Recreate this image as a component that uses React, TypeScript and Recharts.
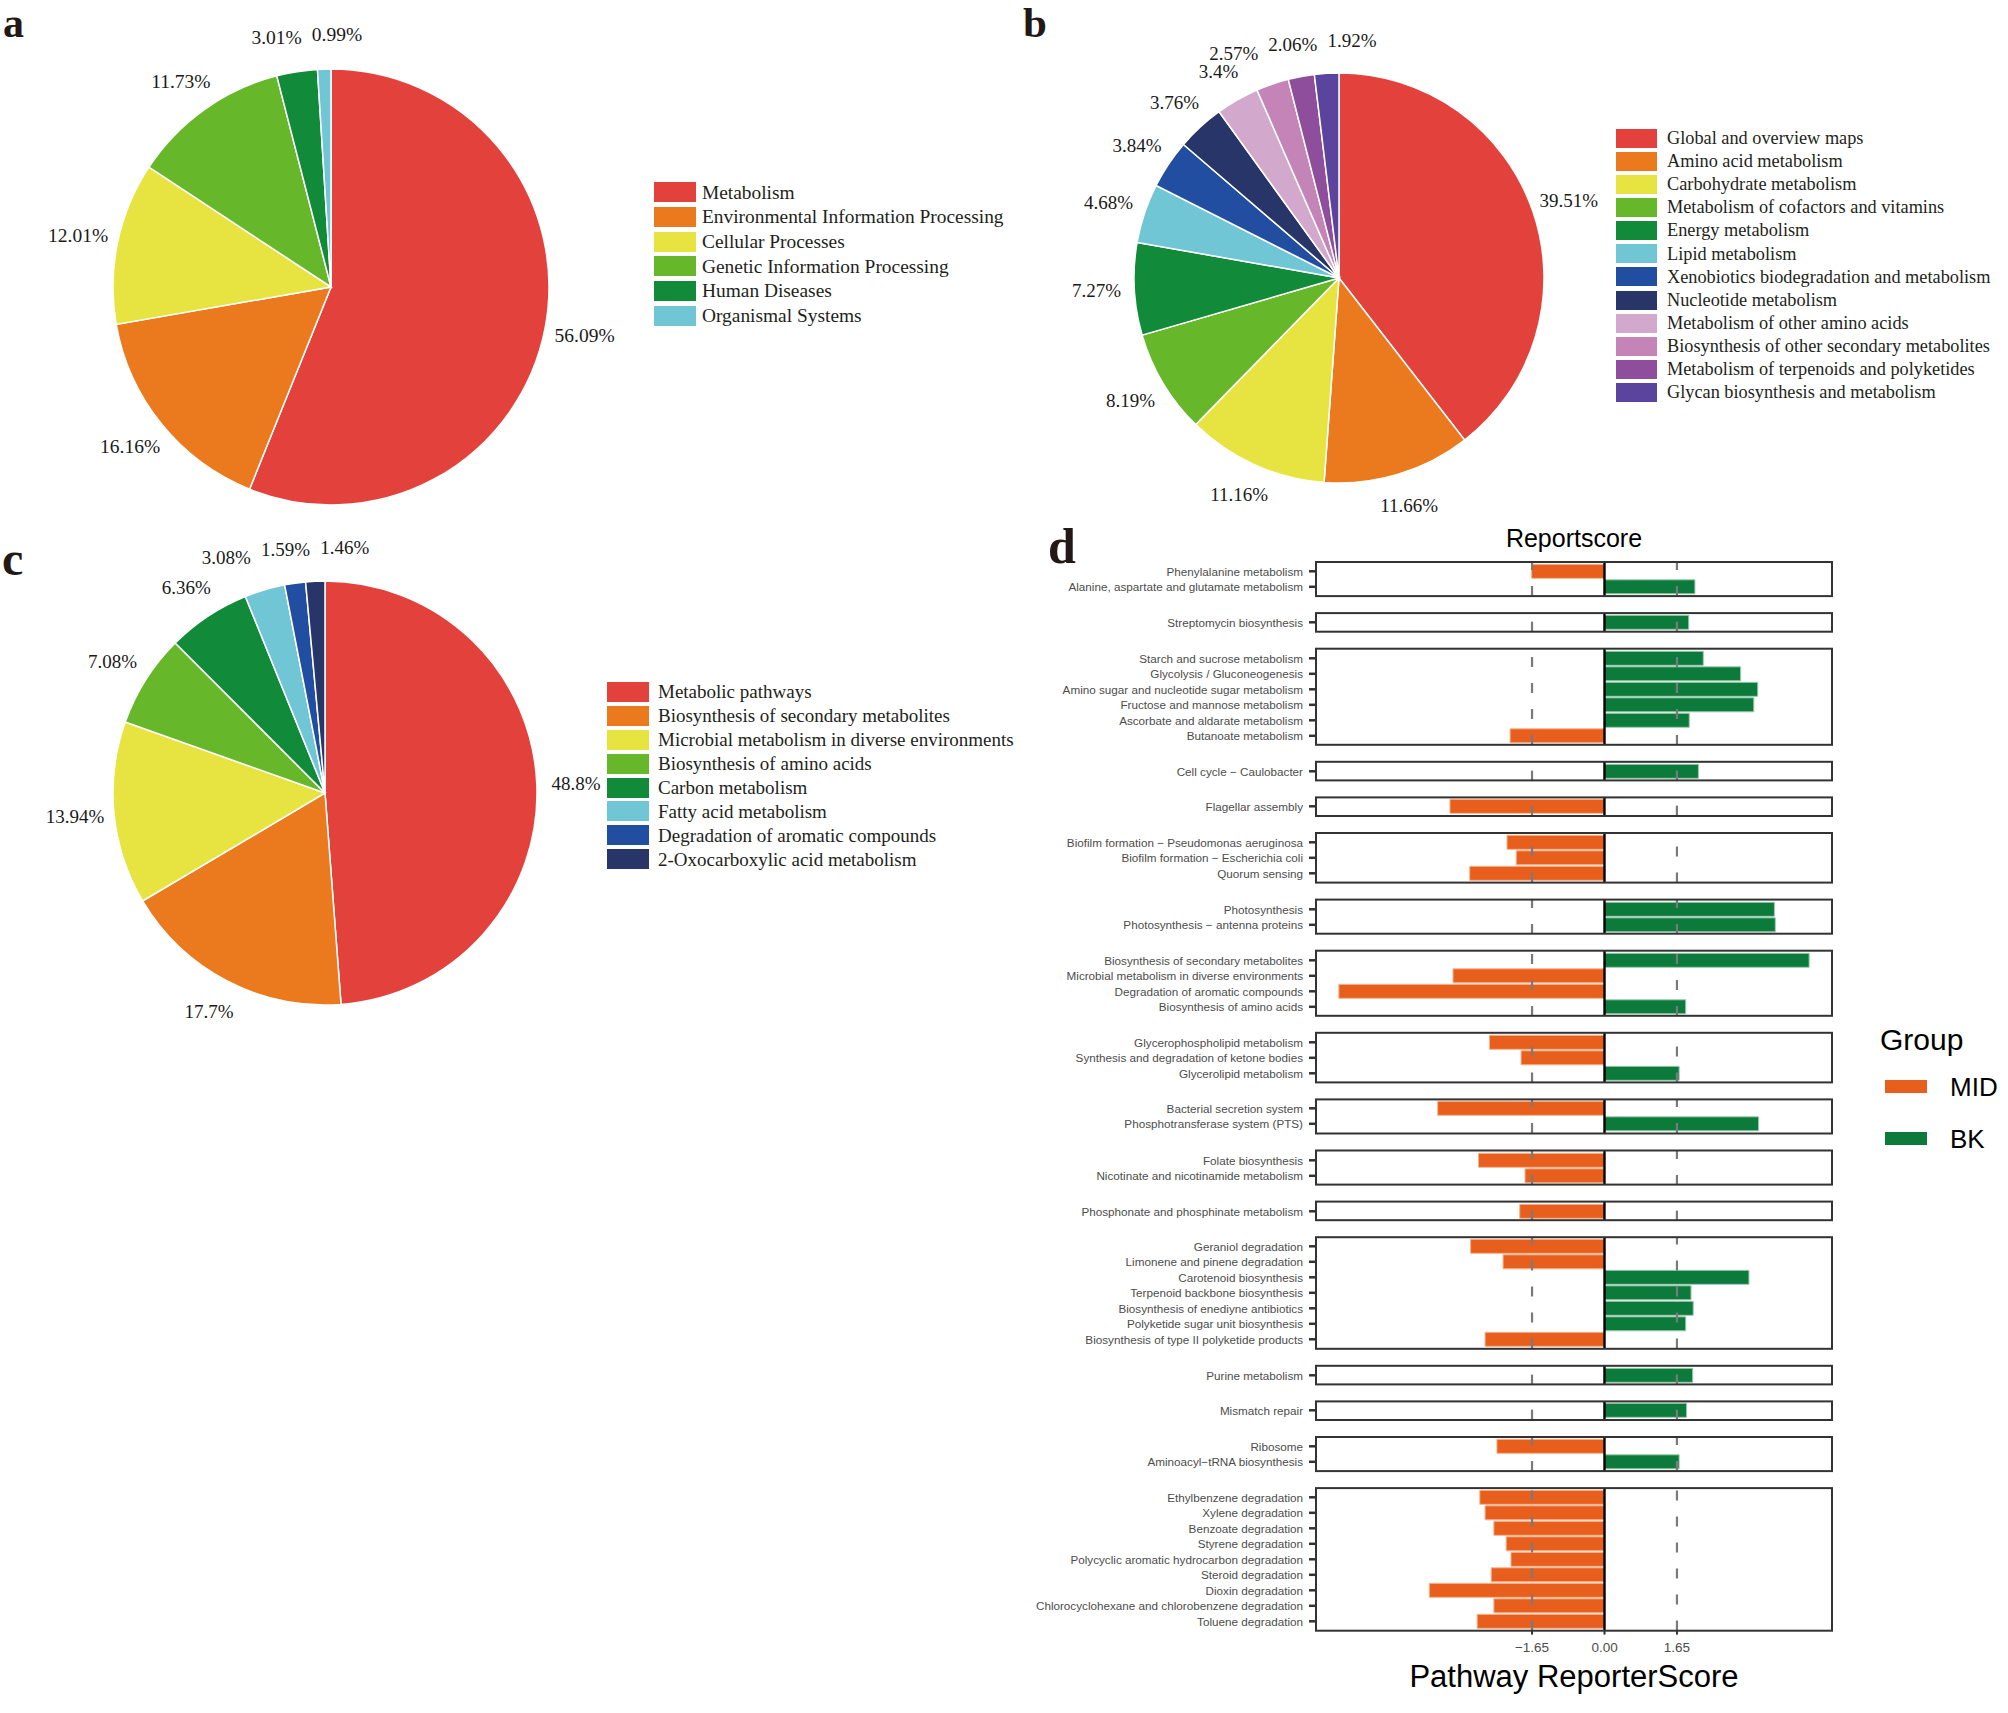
import React from "react";
import { PieChart, Pie, Cell, Legend, BarChart, Bar, XAxis, YAxis, ReferenceLine } from "recharts";

const SERIF = '"Liberation Serif", "Times New Roman", serif';
const SANS = '"Liberation Sans", Arial, sans-serif';

// ---------- Panel a (KEGG level 1) ----------
const level1Names = [
  "Metabolism",
  "Environmental Information Processing",
  "Cellular Processes",
  "Genetic Information Processing",
  "Human Diseases",
  "Organismal Systems",
];
const level1Pct = [56.09, 16.16, 12.01, 11.73, 3.01, 0.99];

// ---------- Panel b (KEGG level 2) ----------
const level2Names = [
  "Global and overview maps",
  "Amino acid metabolism",
  "Carbohydrate metabolism",
  "Metabolism of cofactors and vitamins",
  "Energy metabolism",
  "Lipid metabolism",
  "Xenobiotics biodegradation and metabolism",
  "Nucleotide metabolism",
  "Metabolism of other amino acids",
  "Biosynthesis of other secondary metabolites",
  "Metabolism of terpenoids and polyketides",
  "Glycan biosynthesis and metabolism",
];
const level2Pct = [39.51, 11.66, 11.16, 8.19, 7.27, 4.68, 3.84, 3.76, 3.4, 2.57, 2.06, 1.92];

// ---------- Panel c (KEGG level 3) ----------
const level3Names = [
  "Metabolic pathways",
  "Biosynthesis of secondary metabolites",
  "Microbial metabolism in diverse environments",
  "Biosynthesis of amino acids",
  "Carbon metabolism",
  "Fatty acid metabolism",
  "Degradation of aromatic compounds",
  "2-Oxocarboxylic acid metabolism",
];
const level3Pct = [48.8, 17.7, 13.94, 7.08, 6.36, 3.08, 1.59, 1.46];

// ---------- Panel d (ReporterScore facets) ----------
const pathwayGroups: string[][] = [
  ["Phenylalanine metabolism", "Alanine, aspartate and glutamate metabolism"],
  ["Streptomycin biosynthesis"],
  [
    "Starch and sucrose metabolism",
    "Glycolysis / Gluconeogenesis",
    "Amino sugar and nucleotide sugar metabolism",
    "Fructose and mannose metabolism",
    "Ascorbate and aldarate metabolism",
    "Butanoate metabolism",
  ],
  ["Cell cycle \u2212 Caulobacter"],
  ["Flagellar assembly"],
  [
    "Biofilm formation \u2212 Pseudomonas aeruginosa",
    "Biofilm formation \u2212 Escherichia coli",
    "Quorum sensing",
  ],
  ["Photosynthesis", "Photosynthesis \u2212 antenna proteins"],
  [
    "Biosynthesis of secondary metabolites",
    "Microbial metabolism in diverse environments",
    "Degradation of aromatic compounds",
    "Biosynthesis of amino acids",
  ],
  ["Glycerophospholipid metabolism", "Synthesis and degradation of ketone bodies", "Glycerolipid metabolism"],
  ["Bacterial secretion system", "Phosphotransferase system (PTS)"],
  ["Folate biosynthesis", "Nicotinate and nicotinamide metabolism"],
  ["Phosphonate and phosphinate metabolism"],
  [
    "Geraniol degradation",
    "Limonene and pinene degradation",
    "Carotenoid biosynthesis",
    "Terpenoid backbone biosynthesis",
    "Biosynthesis of enediyne antibiotics",
    "Polyketide sugar unit biosynthesis",
    "Biosynthesis of type II polyketide products",
  ],
  ["Purine metabolism"],
  ["Mismatch repair"],
  ["Ribosome", "Aminoacyl\u2212tRNA biosynthesis"],
  [
    "Ethylbenzene degradation",
    "Xylene degradation",
    "Benzoate degradation",
    "Styrene degradation",
    "Polycyclic aromatic hydrocarbon degradation",
    "Steroid degradation",
    "Dioxin degradation",
    "Chlorocyclohexane and chlorobenzene degradation",
    "Toluene degradation",
  ],
];
const scoreGroups: number[][] = [
  [-1.66, 2.06],
  [1.92],
  [2.25, 3.1, 3.49, 3.4, 1.93, -2.15],
  [2.14],
  [-3.52],
  [-2.22, -2.01, -3.07],
  [3.87, 3.89],
  [4.66, -3.45, -6.05, 1.85],
  [-2.62, -1.9, 1.7],
  [-3.8, 3.51],
  [-2.87, -1.81],
  [-1.93],
  [-3.05, -2.31, 3.29, 1.97, 2.02, 1.85, -2.72],
  [2.01],
  [1.87],
  [-2.45, 1.7],
  [-2.84, -2.72, -2.52, -2.24, -2.13, -2.58, -3.99, -2.52, -2.9],
];
const groupNames = ["MID", "BK"];
const xTicks = [-1.65, 0, 1.65];
const thresholds = [-1.65, 1.65];

// ---------- styles ----------
const PIE_COLORS = [
  "#E3423C", "#EB7A1E", "#E7E340", "#67B72B", "#118A39", "#70C6D4",
  "#224EA1", "#273568", "#D2A9CC", "#C484B8", "#8E4E9C", "#5B449E",
];
const GROUP_COLORS: Record<string, string> = { MID: "#E85E1C", BK: "#0B7A3B" };
const GROUP_EDGE: Record<string, string> = { MID: "#F6B58F", BK: "#9CCBAE" };

const LABEL_FX = 1.185;
const LABEL_FY = 1.16;

const pctText = (v: number) => `${v}%`;

function textWidth(s: string, fs: number) {
  let w = 0;
  for (const ch of s) w += ch === "%" ? 0.833 : ch === "." ? 0.25 : 0.5;
  return w * fs;
}

// simple horizontal de-overlap of pie percentage labels
function repelOffsets(values: number[], R: number, fs: number) {
  const total = values.reduce((a, b) => a + b, 0);
  let acc = 0;
  const pts = values.map((v) => {
    const mid = 90 - ((acc + v / 2) / total) * 360;
    acc += v;
    const rad = (-mid * Math.PI) / 180;
    return { x: R * LABEL_FX * Math.cos(rad), y: R * LABEL_FY * Math.sin(rad), w: textWidth(pctText(v), fs) };
  });
  const x0 = pts.map((p) => p.x);
  for (let it = 0; it < 400; it++) {
    let moved = false;
    for (let i = 0; i < pts.length; i++) {
      for (let j = i + 1; j < pts.length; j++) {
        const a = pts[i];
        const b = pts[j];
        if (Math.abs(a.y - b.y) >= fs * 0.95) continue;
        const need = (a.w + b.w) / 2 + 10;
        const dx = b.x - a.x;
        if (Math.abs(dx) >= need) continue;
        const push = (need - Math.abs(dx)) / 2 + 0.05;
        const dir = dx > 0 ? 1 : -1;
        a.x -= dir * push;
        b.x += dir * push;
        moved = true;
      }
    }
    if (!moved) break;
  }
  return pts.map((p, i) => p.x - x0[i]);
}

function makeLabel(values: number[], R: number, fs: number) {
  const offs = repelOffsets(values, R, fs);
  return (props: any) => {
    const { cx, cy, midAngle, outerRadius, index } = props;
    const rad = (-midAngle * Math.PI) / 180;
    const x = cx + outerRadius * LABEL_FX * Math.cos(rad) + (offs[index] || 0);
    const y = cy + outerRadius * LABEL_FY * Math.sin(rad);
    return (
      <text
        x={x}
        y={y}
        textAnchor="middle"
        dominantBaseline="central"
        fontFamily={SERIF}
        fontSize={fs}
        fill="#1a1a1a"
      >
        {pctText(values[index])}
      </text>
    );
  };
}

type LegendSpec = { keyW: number; keyH: number; rowH: number; fs: number; gap: number };

function PieLegendContent({ names, spec }: { names: string[]; spec: LegendSpec }) {
  return (
    <div style={{ fontFamily: SERIF, fontSize: spec.fs, color: "#231F20" }}>
      {names.map((n, i) => (
        <div key={n} style={{ display: "flex", alignItems: "center", height: spec.rowH }}>
          <div
            style={{
              width: spec.keyW,
              height: spec.keyH,
              background: PIE_COLORS[i],
              marginRight: spec.gap,
              flex: "none",
            }}
          />
          <span style={{ whiteSpace: "nowrap", lineHeight: 1 }}>{n}</span>
        </div>
      ))}
    </div>
  );
}

type PieSpec = {
  names: string[];
  values: number[];
  left: number;
  top: number;
  width: number;
  height: number;
  cx: number;
  cy: number;
  r: number;
  labelFs: number;
  legendLeft: number;
  legendTop: number;
  legend: LegendSpec;
};

function KeggPie({ s }: { s: PieSpec }) {
  const data = s.names.map((n, i) => ({ name: n, value: s.values[i] }));
  return (
    <div style={{ position: "absolute", left: s.left, top: s.top }}>
      <PieChart width={s.width} height={s.height} margin={{ top: 0, right: 0, bottom: 0, left: 0 }}>
        <Pie
          data={data}
          dataKey="value"
          nameKey="name"
          cx={s.cx}
          cy={s.cy}
          outerRadius={s.r}
          startAngle={90}
          endAngle={-270}
          stroke="#ffffff"
          strokeWidth={1.5}
          labelLine={false}
          label={makeLabel(s.values, s.r, s.labelFs)}
          isAnimationActive={false}
        >
          {data.map((d, i) => (
            <Cell key={d.name} fill={PIE_COLORS[i]} />
          ))}
        </Pie>
        <Legend
          layout="vertical"
          align="right"
          verticalAlign="top"
          wrapperStyle={{ left: s.legendLeft, top: s.legendTop, width: "auto", height: "auto", right: "auto" }}
          content={() => <PieLegendContent names={s.names} spec={s.legend} />}
        />
      </PieChart>
    </div>
  );
}

// ---------- panel d layout ----------
const D_PANEL_LEFT = 1316;
const D_PANEL_W = 516;
const Y_AXIS_W = 300;
const FACET_TOP0 = 562;
const ROW_U = 15.5;
const FACET_GAP = 17;
const X_DOMAIN: [number, number] = [-6.57, 5.18];
const X_AXIS_H = 36;
const AXIS_FS = 11.7;
const XTICK_FS = 13.5;

const fmtTick = (v: number) => v.toFixed(2).replace("-", "\u2212");

const YTick = (props: any) => {
  const { x, y, payload } = props;
  return (
    <text
      x={x}
      y={y}
      textAnchor="end"
      dominantBaseline="central"
      fontFamily={SANS}
      fontSize={AXIS_FS}
      fill="#4D4D4D"
    >
      {payload.value}
    </text>
  );
};

type FacetProps = { names: string[]; scores: number[]; top: number; isLast: boolean };

function facetRows(names: string[], scores: number[]) {
  return names.map((p, i) => ({
    pathway: p,
    score: scores[i],
    group: scores[i] < 0 ? groupNames[0] : groupNames[1],
  }));
}

function Facet({ names, scores, top, isLast }: FacetProps) {
  const n = names.length;
  const boxH = (n + 0.2) * ROW_U;
  const rows = facetRows(names, scores);
  return (
    <div style={{ position: "absolute", left: D_PANEL_LEFT - Y_AXIS_W, top, fontFamily: SANS }}>
      <BarChart
        layout="vertical"
        width={Y_AXIS_W + D_PANEL_W}
        height={boxH + (isLast ? X_AXIS_H : 0)}
        data={rows}
        margin={{ top: 0, right: 0, bottom: 0, left: 0 }}
        barCategoryGap="5%"
      >
        <XAxis
          type="number"
          domain={X_DOMAIN}
          ticks={xTicks}
          allowDataOverflow
          hide={!isLast}
          height={X_AXIS_H}
          axisLine={false}
          tickLine={{ stroke: "#333333", strokeWidth: 2 }}
          tickSize={4}
          tickMargin={8}
          tickFormatter={fmtTick}
          tick={{ fontSize: XTICK_FS, fill: "#4D4D4D", fontFamily: SANS }}
          interval={0}
        />
        <YAxis
          type="category"
          dataKey="pathway"
          width={Y_AXIS_W}
          interval={0}
          axisLine={false}
          tickSize={7}
          tickMargin={6}
          tickLine={{ stroke: "#333333", strokeWidth: 2.5 }}
          tick={YTick}
          padding={{ top: 0.1 * ROW_U, bottom: 0.1 * ROW_U }}
        />
        <Bar dataKey="score" isAnimationActive={false} strokeWidth={1}>
          {rows.map((r, i) => (
            <Cell key={i} fill={GROUP_COLORS[r.group]} stroke={GROUP_EDGE[r.group]} />
          ))}
        </Bar>
      </BarChart>
    </div>
  );
}

// Transparent twin chart so the reference lines sit above the bars
function FacetLines({ names, scores, top }: FacetProps) {
  const n = names.length;
  const boxH = (n + 0.2) * ROW_U;
  const rows = facetRows(names, scores);
  return (
    <div style={{ position: "absolute", left: D_PANEL_LEFT - Y_AXIS_W, top, pointerEvents: "none" }}>
      <BarChart
        layout="vertical"
        width={Y_AXIS_W + D_PANEL_W}
        height={boxH}
        data={rows}
        margin={{ top: 0, right: 0, bottom: 0, left: 0 }}
        barCategoryGap="5%"
      >
        <XAxis type="number" domain={X_DOMAIN} allowDataOverflow hide />
        <YAxis
          type="category"
          dataKey="pathway"
          width={Y_AXIS_W}
          tick={false}
          tickLine={false}
          axisLine={false}
          padding={{ top: 0.1 * ROW_U, bottom: 0.1 * ROW_U }}
        />
        <Bar dataKey="score" isAnimationActive={false} fill="none" fillOpacity={0} />
        {thresholds.map((t) => (
          <ReferenceLine key={t} x={t} stroke="#7A7A7A" strokeWidth={2.2} strokeDasharray="10 16" />
        ))}
        <ReferenceLine x={0} stroke="#000000" strokeWidth={2.4} />
      </BarChart>
    </div>
  );
}

export default function App() {
  const tops: number[] = [];
  let y = FACET_TOP0;
  pathwayGroups.forEach((g) => {
    tops.push(y);
    y += (g.length + 0.2) * ROW_U + FACET_GAP;
  });

  const pieA: PieSpec = {
    names: level1Names,
    values: level1Pct,
    left: 0,
    top: 0,
    width: 1005,
    height: 525,
    cx: 331,
    cy: 287,
    r: 218,
    labelFs: 19.5,
    legendLeft: 654,
    legendTop: 180,
    legend: { keyW: 42, keyH: 20, rowH: 24.7, fs: 19.4, gap: 6 },
  };
  const pieB: PieSpec = {
    names: level2Names,
    values: level2Pct,
    left: 1010,
    top: 0,
    width: 998,
    height: 525,
    cx: 329,
    cy: 278,
    r: 205,
    labelFs: 19,
    legendLeft: 606,
    legendTop: 126.5,
    legend: { keyW: 41, keyH: 19, rowH: 23.15, fs: 18.3, gap: 10 },
  };
  const pieC: PieSpec = {
    names: level3Names,
    values: level3Pct,
    left: 0,
    top: 530,
    width: 1030,
    height: 510,
    cx: 325,
    cy: 263,
    r: 212,
    labelFs: 19,
    legendLeft: 607,
    legendTop: 150,
    legend: { keyW: 42, keyH: 20, rowH: 23.9, fs: 19, gap: 9 },
  };

  const panelCenter = D_PANEL_LEFT + D_PANEL_W / 2;

  return (
    <div
      style={{
        position: "absolute",
        left: 0,
        top: 0,
        width: 2008,
        height: 1713,
        background: "#ffffff",
        overflow: "hidden",
      }}
    >
      <KeggPie s={pieA} />
      <KeggPie s={pieB} />
      <KeggPie s={pieC} />

      {pathwayGroups.map((g, i) => (
        <Facet
          key={`f${i}`}
          names={g}
          scores={scoreGroups[i]}
          top={tops[i]}
          isLast={i === pathwayGroups.length - 1}
        />
      ))}
      {pathwayGroups.map((g, i) => (
        <FacetLines
          key={`l${i}`}
          names={g}
          scores={scoreGroups[i]}
          top={tops[i]}
          isLast={i === pathwayGroups.length - 1}
        />
      ))}

      <svg
        width={2008}
        height={1713}
        style={{ position: "absolute", left: 0, top: 0, pointerEvents: "none" }}
      >
        {/* panel letters */}
        <text x={3} y={37} fontFamily={SERIF} fontWeight="bold" fontSize={42} fill="#231815">a</text>
        <text x={1023} y={37} fontFamily={SERIF} fontWeight="bold" fontSize={43} fill="#231815">b</text>
        <text x={2} y={575} fontFamily={SERIF} fontWeight="bold" fontSize={48} fill="#231815">c</text>
        <text x={1048} y={563} fontFamily={SERIF} fontWeight="bold" fontSize={50} fill="#231815">d</text>

        {/* facet borders */}
        {pathwayGroups.map((g, i) => (
          <rect
            key={i}
            x={D_PANEL_LEFT}
            y={tops[i]}
            width={D_PANEL_W}
            height={(g.length + 0.2) * ROW_U}
            fill="none"
            stroke="#333333"
            strokeWidth={2}
          />
        ))}

        {/* titles */}
        <text x={panelCenter} y={547} textAnchor="middle" fontFamily={SANS} fontSize={25} fill="#000">
          Reportscore
        </text>
        <text x={panelCenter} y={1687} textAnchor="middle" fontFamily={SANS} fontSize={31} fill="#000">
          Pathway ReporterScore
        </text>

        {/* group legend */}
        <text x={1880} y={1050} fontFamily={SANS} fontSize={30} fill="#000">Group</text>
        {groupNames.map((g, i) => (
          <g key={g}>
            <rect x={1885} y={1080 + i * 52} width={42} height={13} fill={GROUP_COLORS[g]} />
            <text x={1950} y={1096 + i * 52} fontFamily={SANS} fontSize={26} fill="#000">{g}</text>
          </g>
        ))}
      </svg>
    </div>
  );
}
